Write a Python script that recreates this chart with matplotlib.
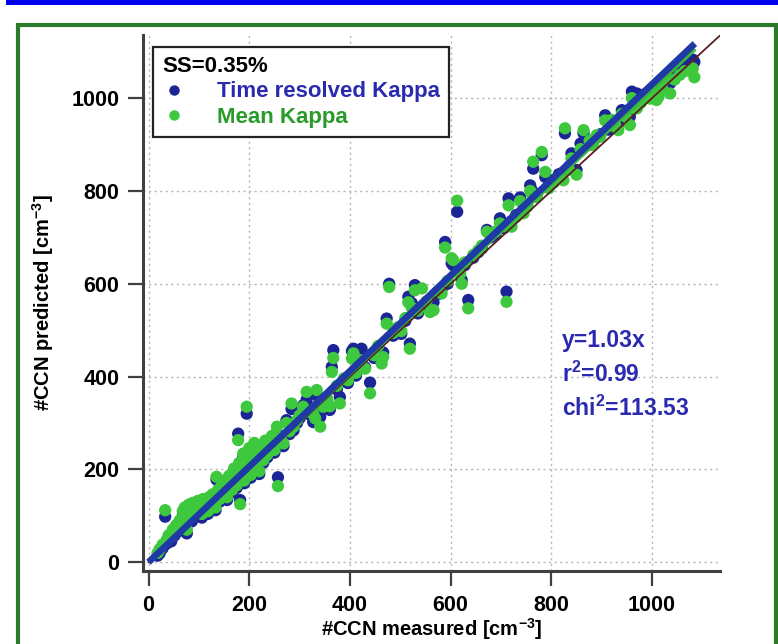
import matplotlib
matplotlib.use("Agg")
import matplotlib.pyplot as plt
from matplotlib.patches import Rectangle
from matplotlib.lines import Line2D

plt.rcParams["font.family"] = ["Liberation Sans", "DejaVu Sans"]
plt.rcParams["font.weight"] = "bold"
plt.rcParams["mathtext.fontset"] = "custom"
plt.rcParams["mathtext.default"] = "bf"
plt.rcParams["mathtext.bf"] = "Liberation Sans:bold"
plt.rcParams["mathtext.rm"] = "Liberation Sans:bold"

# CCN closure at SS=0.35%: measured vs predicted number concentrations [cm^-3]
measured = [
    18, 22, 28, 33, 36, 40, 45, 48, 52, 55, 58, 62, 65, 68, 70, 72, 76, 78, 80, 84,
    86, 88, 92, 95, 98, 100, 103, 106, 108, 112, 115, 118, 120, 124, 127, 130, 133, 135, 138, 141,
    145, 148, 150, 153, 156, 160, 163, 166, 170, 172, 175, 178, 180, 182, 185, 188, 190, 193, 195, 198,
    200, 203, 206, 210, 213, 216, 220, 224, 228, 232, 236, 240, 245, 250, 255, 257, 262, 268, 274, 280,
    284, 288, 295, 300, 307, 314, 320, 327, 331, 334, 341, 347, 355, 360, 364, 367, 374, 380, 388, 396,
    404, 407, 412, 418, 423, 430, 440, 448, 456, 463, 466, 473, 478, 486, 495, 502, 510, 516, 519, 523,
    529, 535, 543, 552, 559, 566, 575, 582, 589, 594, 602, 605, 613, 619, 622, 628, 635, 645, 655, 662,
    672, 680, 689, 698, 706, 711, 715, 721, 730, 738, 745, 752, 758, 761, 764, 771, 781, 788, 795, 805,
    815, 824, 827, 835, 840, 850, 858, 864, 876, 883, 890, 897, 907, 914, 920, 926, 933, 940, 948, 956,
    960, 965, 970, 978, 985, 996, 1003, 1009, 1013, 1020, 1029, 1036, 1045, 1055, 1065, 1081, 1084,
]
predicted_time_resolved = [
    14, 19, 30, 98, 40, 52, 45, 62, 58, 72, 66, 84, 78, 100, 92, 110, 62, 96, 118, 104,
    88, 122, 112, 100, 126, 108, 118, 96, 130, 114, 122, 104, 136, 118, 140, 126, 112, 178, 150, 130,
    160, 140, 170, 152, 134, 180, 164, 150, 196, 176, 160, 277, 206, 134, 186, 226, 170, 214, 320, 196,
    238, 182, 222, 250, 204, 232, 190, 244, 214, 256, 226, 246, 268, 236, 280, 183, 262, 250, 306, 276,
    330, 284, 300, 310, 338, 350, 318, 302, 302, 360, 313, 330, 346, 328, 421, 457, 372, 356, 390, 386,
    455, 460, 402, 416, 460, 420, 387, 440, 460, 448, 452, 525, 600, 488, 500, 492, 520, 572, 471, 558,
    597, 536, 548, 556, 545, 560, 578, 588, 690, 600, 644, 640, 755, 630, 608, 640, 565, 656, 668, 676,
    716, 700, 706, 741, 720, 583, 784, 735, 748, 786, 760, 770, 812, 802, 848, 792, 877, 830, 810, 824,
    836, 840, 924, 852, 881, 845, 902, 924, 900, 905, 915, 922, 963, 932, 940, 950, 945, 974, 968, 960,
    1014, 985, 1010, 1000, 1008, 1012, 1020, 1015, 1024, 1030, 1050, 1032, 1050, 1060, 1070, 1083, 1078,
]
predicted_mean = [
    20, 28, 38, 112, 48, 58, 55, 70, 66, 80, 75, 90, 88, 110, 104, 118, 70, 106, 124, 112,
    98, 128, 118, 108, 132, 116, 124, 104, 136, 120, 128, 110, 140, 124, 146, 132, 118, 184, 156, 136,
    164, 146, 176, 158, 140, 186, 170, 156, 202, 182, 166, 263, 214, 125, 192, 234, 176, 222, 335, 202,
    246, 188, 230, 257, 210, 240, 196, 250, 220, 262, 232, 252, 272, 242, 292, 164, 268, 256, 300, 282,
    342, 292, 306, 316, 335, 367, 324, 320, 310, 371, 292, 335, 352, 336, 410, 440, 380, 342, 396, 392,
    439, 450, 408, 422, 435, 417, 364, 446, 466, 428, 442, 514, 593, 494, 506, 498, 526, 560, 460, 548,
    586, 542, 590, 562, 539, 543, 584, 579, 678, 606, 655, 651, 779, 622, 600, 646, 547, 662, 672, 682,
    712, 706, 712, 730, 724, 561, 769, 723, 744, 778, 752, 766, 800, 795, 863, 787, 884, 841, 806, 818,
    830, 823, 935, 846, 870, 835, 890, 931, 908, 899, 920, 917, 952, 940, 953, 945, 931, 966, 960, 942,
    1000, 978, 978, 990, 1000, 999, 1010, 996, 1003, 1022, 1042, 1010, 1040, 1050, 1058, 1064, 1045,
]

fit_slope_time_resolved = 1.03
fit_slope_mean = 1.02
fit_x_end = 1085
one_to_one_end = 1135

x_ticks = [0, 200, 400, 600, 800, 1000]
y_ticks = [0, 200, 400, 600, 800, 1000]

fit_labels = ["y=1.03x", "r$^{2}$=0.99", "chi$^{2}$=113.53"]

c_blue = "#1c2596"
c_green = "#3ec83e"
c_blue_line = "#1f3aa6"
c_green_line = "#3bb53b"
c_text_blue = "#2a2ab0"
c_text_green = "#2a9a2a"
c_axis = "#404040"

fig = plt.figure(figsize=(7.78, 6.44), dpi=100)

# page decoration: blue bar on top and green frame
fig.patches.append(Rectangle((0.008, 0.9915), 0.992, 0.0085, transform=fig.transFigure,
                             facecolor="#0000ee", edgecolor="none", zorder=0))
fig.patches.append(Rectangle((0.023, -0.02), 0.974, 0.9815, transform=fig.transFigure,
                             facecolor="none", edgecolor="#2a7a2a", linewidth=3, zorder=0))

ax = fig.add_axes([143 / 778, 73 / 644, 577 / 778, 536 / 644])
ax.set_xlim(-11, 1135)
ax.set_ylim(-19, 1136)

ax.scatter(measured, predicted_time_resolved, s=78, color=c_blue, edgecolors="none", zorder=3)
ax.scatter(measured, predicted_mean, s=78, color=c_green, edgecolors="none", zorder=4)

ax.plot([0, one_to_one_end], [0, one_to_one_end], color="#5a1f1f", lw=1.3, zorder=5)
ax.plot([0, fit_x_end], [0, fit_slope_mean * fit_x_end], color=c_green_line, lw=3.5, zorder=6,
        solid_capstyle="butt")
ax.plot([0, fit_x_end], [0, fit_slope_time_resolved * fit_x_end], color=c_blue_line, lw=4.8, zorder=7,
        solid_capstyle="butt")

ax.set_xticks(x_ticks)
ax.set_yticks(y_ticks)
ax.grid(True, color="#b5b5b5", linestyle=(0, (1.5, 2.5)), linewidth=1.0)
ax.set_axisbelow(True)
for side in ("top", "right"):
    ax.spines[side].set_visible(False)
for side in ("left", "bottom"):
    ax.spines[side].set_color(c_axis)
    ax.spines[side].set_linewidth(2.2)
ax.tick_params(direction="out", length=11, width=1.6, color=c_axis, labelsize=15.5,
               labelcolor="black", pad=6)
for lab in ax.get_xticklabels() + ax.get_yticklabels():
    lab.set_fontweight("bold")

ax.set_xlabel("#CCN measured [cm$^{-3}$]", fontsize=14.5, fontweight="bold", labelpad=0)
ax.set_ylabel("#CCN predicted [cm$^{-3}$]", fontsize=14.5, fontweight="bold", labelpad=11)

handles = [
    Line2D([], [], linestyle="none", marker="o", markersize=6.5, color=c_blue),
    Line2D([], [], linestyle="none", marker="o", markersize=6.5, color=c_green),
]
leg = ax.legend(handles, ["Time resolved Kappa", "Mean Kappa"], title="SS=0.35%",
                loc="upper left", bbox_to_anchor=(10 / 577, 1 - 12 / 536),
                frameon=True, fancybox=False, edgecolor="#222222", framealpha=1,
                borderaxespad=0, handletextpad=1.4, handlelength=1.1, labelspacing=0.2,
                borderpad=0.4, prop={"size": 16, "weight": "bold"},
                title_fontproperties={"size": 16, "weight": "bold"})
leg._legend_box.align = "left"
leg.get_frame().set_linewidth(1.6)
for txt, col in zip(leg.get_texts(), [c_text_blue, c_text_green]):
    txt.set_color(col)

for label, ypix in zip(fit_labels, [340, 374, 408]):
    fig.text(562 / 778, 1 - ypix / 644, label, fontsize=16.5, fontweight="bold",
             color=c_text_blue, va="center", ha="left")

fig.savefig("out.png", dpi=100)
